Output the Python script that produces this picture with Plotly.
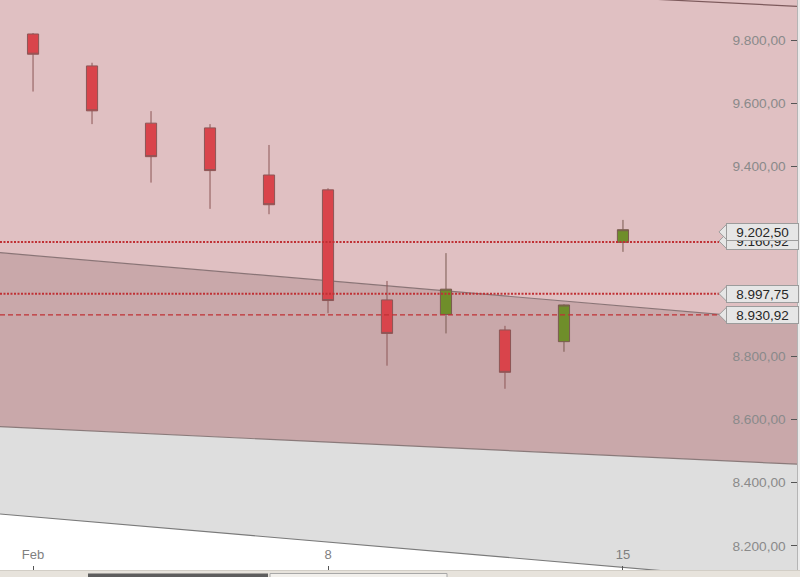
import plotly.graph_objects as go

# ---------------- data ----------------
dates = ["2010-02-01", "2010-02-02", "2010-02-03", "2010-02-04", "2010-02-05",
         "2010-02-08", "2010-02-09", "2010-02-10", "2010-02-11", "2010-02-12",
         "2010-02-15"]
opens  = [9819, 9718, 9537, 9522, 9373, 9326, 8978, 8932, 8883, 8846, 9160]
highs  = [9822, 9728, 9575, 9534, 9468, 9331, 9038, 9126, 8896, 8964, 9231]
lows   = [9637, 9534, 9349, 9266, 9249, 8936, 8770, 8872, 8697, 8814, 9130]
closes = [9755, 9576, 9431, 9387, 9279, 8976, 8872, 9012, 8749, 8962, 9200]

tick_idx = [0, 5, 10]
tick_labels = ["Feb", "8", "15"]

# visible price-axis ticks (9.000 and 9.200 are covered by the price labels)
y_ticks = [8200, 8400, 8600, 8800, 9400, 9600, 9800]

# channel lines: value at left edge / right edge of the view
x_left, x_right = -0.56, 12.95
top_line    = [10032.0, 9906.5]
mid_line    = [9127.3, 8911.3]
low_line    = [8577.0, 8458.4]
bottom_line = [8300.9, 8085.0]

# price levels with labels
level_values = [9160.92, 8997.75, 8930.92]
level_dash   = ["2px,1.5px", "2px,1.5px", "5px,3px"]
label_values = [9160.92, 9202.50, 8997.75, 8930.92]
label_texts  = ["9.160,92", "9.202,50", "8.997,75", "8.930,92"]
label_shift  = [1, -3, 0, 0]

y_range = [8123.8, 9926.5]

# ---------------- figure ----------------
W, H = 800, 577
ML, MR, MT, MB = 0, 3, 0, 7
PW = W - ML - MR
PH = H - MT - MB
upp = PH / (y_range[1] - y_range[0])  # px per unit

idx = list(range(len(dates)))
fig = go.Figure()

shapes = []

def band(upper, lower, color):
    shapes.append(dict(type="path", xref="x", yref="y", layer="below",
                       path=(f"M {x_left} {upper[0]} L {x_right} {upper[1]} "
                             f"L {x_right} {lower[1]} L {x_left} {lower[0]} Z"),
                       fillcolor=color, line=dict(width=0)))

band([20000, 20000], mid_line, "#e0c0c2")
band(mid_line, low_line, "#c9a8aa")
band(low_line, bottom_line, "#dedede")

for ln, col in [(top_line, "#7d5a5c"), (mid_line, "#8a7476"),
                (low_line, "#8a7a7a"), (bottom_line, "#7a7a7a")]:
    shapes.append(dict(type="line", xref="x", yref="y", layer="below",
                       x0=x_left, x1=x_right, y0=ln[0], y1=ln[1],
                       line=dict(color=col, width=1.2)))

fig.add_trace(go.Candlestick(
    x=idx, open=opens, high=highs, low=lows, close=closes,
    increasing=dict(fillcolor="#6f8e2a", line=dict(color="#7a5a50", width=1)),
    decreasing=dict(fillcolor="#d9444b", line=dict(color="#8c5656", width=1)),
    whiskerwidth=0, showlegend=False, hoverinfo="skip"))

x_end = 719 / PW
for v, d in zip(level_values, level_dash):
    shapes.append(dict(type="line", xref="paper", yref="y", x0=0, x1=x_end, y0=v, y1=v,
                       line=dict(color="#c03034", width=2 if "2px" in d else 1.3, dash=d),
                       layer="above"))

annotations = []
for v, t, s in zip(label_values, label_texts, label_shift):
    yc = v + s / upp
    half = 8 / upp
    shapes.append(dict(type="path", xref="paper", yref="y", layer="above",
                       path=f"M {727/PW} {yc+half} L {719/PW} {yc} L {727/PW} {yc-half} Z",
                       fillcolor="#e6e6e6", line=dict(color="#9c9c9c", width=1)))
    annotations.append(dict(xref="paper", yref="y", x=762 / PW, y=v, yshift=s,
                            xanchor="center", yanchor="middle",
                            text=t, showarrow=False, width=69, height=14, borderpad=1,
                            bgcolor="#e6e6e6", bordercolor="#9c9c9c", borderwidth=1,
                            font=dict(family="Liberation Sans, Arial", size=13.5, color="#262626")))

# bottom scrollbar
py = lambda px: -(px - PH) / PH
shapes += [
    dict(type="rect", xref="paper", yref="paper", x0=0, x1=W / PW, y0=py(577), y1=py(570),
         fillcolor="#e7e3dc", line=dict(width=0), layer="above"),
    dict(type="line", xref="paper", yref="paper", x0=0, x1=W / PW, y0=py(570.5), y1=py(570.5),
         line=dict(color="#d2cec6", width=1), layer="above"),
    dict(type="rect", xref="paper", yref="paper", x0=88 / PW, x1=268 / PW, y0=py(577), y1=py(573.5),
         fillcolor="#5e5e5e", line=dict(width=0), layer="above"),
    dict(type="rect", xref="paper", yref="paper", x0=270 / PW, x1=447 / PW, y0=py(578), y1=py(573.5),
         fillcolor="#f2f0ec", line=dict(color="#a8a8a8", width=1), layer="above"),
]

fig.update_layout(
    width=W, height=H, margin=dict(l=ML, r=MR, t=MT, b=MB),
    paper_bgcolor="#ececec", plot_bgcolor="#ffffff",
    separators=",.", showlegend=False, boxgap=0.73,
    shapes=shapes, annotations=annotations,
    font=dict(family="Liberation Sans, Arial", size=13, color="#8a8a8a"),
    xaxis=dict(range=[x_left, x_right], tickvals=tick_idx, ticktext=tick_labels,
               ticks="inside", ticklen=4, tickcolor="#555555", ticklabelposition="inside",
               ticklabelstandoff=4,
               showgrid=False, zeroline=False, showline=True, linecolor="#cfcfcf",
               rangeslider=dict(visible=False), tickfont=dict(size=13, color="#7f7f7f")),
    yaxis=dict(range=y_range, side="right", tickvals=y_ticks, tickformat=",.2f",
               ticks="inside", ticklen=6, tickcolor="#555555", ticklabelposition="inside",
               ticklabelstandoff=5,
               showgrid=False, zeroline=False, showline=True, linecolor="#b5b5b5",
               tickfont=dict(size=13.7, color="#8a8a8a")),
)

fig.write_html("out.html", config={"displayModeBar": False},
               post_script="document.body.style.margin='0';document.body.style.overflow='hidden';")
